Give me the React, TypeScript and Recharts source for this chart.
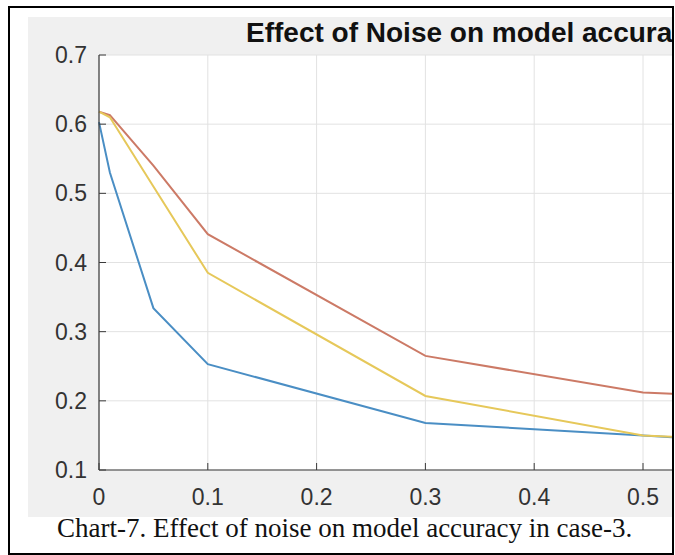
import React from "react";
import { LineChart, Line, XAxis, YAxis, CartesianGrid } from "recharts";

// noise level on x, accuracy on y
const noiseLevels = [0, 0.01, 0.05, 0.1, 0.3, 0.5, 0.7];
const blueSeries = [0.603, 0.53, 0.334, 0.253, 0.168, 0.15, 0.13];
const redSeries = [0.618, 0.613, 0.54, 0.441, 0.265, 0.212, 0.2];
const yellowSeries = [0.618, 0.61, 0.51, 0.385, 0.207, 0.15, 0.135];

const xTicks = [0, 0.1, 0.2, 0.3, 0.4, 0.5, 0.6, 0.7];
const yTicks = [0.1, 0.2, 0.3, 0.4, 0.5, 0.6, 0.7];
// the figure is cropped on the right, labels past 0.5 are never seen
const lastShownX = 0.5;

const title = "Effect of Noise on model accuracy";
const caption = "Chart-7. Effect of noise on model accuracy in case-3.";

const axisColor = "#3a3a3a";
const labelColor = "#333";
const tickFont = "'Liberation Sans', Arial, Helvetica, sans-serif";

const data = noiseLevels.map((x, i) => ({
  x,
  blue: blueSeries[i],
  red: redSeries[i],
  yellow: yellowSeries[i],
}));

const fmt = (v: number) => (v === 0 ? "0" : String(Math.round(v * 10) / 10));

const BottomTick = (props: any) => {
  const { x, y, payload } = props;
  return (
    <g>
      <line x1={x} y1={y} x2={x} y2={y - 7} stroke={axisColor} />
      {payload.value <= lastShownX + 1e-9 && (
        <text
          x={x}
          y={y + 35}
          textAnchor="middle"
          fontSize={23}
          fontFamily={tickFont}
          fill={labelColor}
        >
          {fmt(payload.value)}
        </text>
      )}
    </g>
  );
};

const TopTick = (props: any) => {
  const { x, y } = props;
  return <line x1={x} y1={y} x2={x} y2={y + 7} stroke={axisColor} />;
};

const LeftTick = (props: any) => {
  const { x, y, payload } = props;
  return (
    <g>
      <line x1={x} y1={y} x2={x + 7} y2={y} stroke={axisColor} />
      <text
        x={x - 12}
        y={y + 8}
        textAnchor="end"
        fontSize={23}
        fontFamily={tickFont}
        fill={labelColor}
      >
        {fmt(payload.value)}
      </text>
    </g>
  );
};

export default function App() {
  return (
    <div
      style={{
        position: "absolute",
        left: 8,
        top: 6,
        width: 662,
        height: 545,
        border: "2px solid #000",
        background: "#fff",
        overflow: "hidden",
      }}
    >
      <div
        style={{
          position: "absolute",
          left: 18,
          top: 9,
          width: 840,
          height: 500,
          background: "#f0f0f0",
        }}
      >
        <LineChart
          width={840}
          height={500}
          data={data}
          margin={{ top: 38, right: 7.4, left: 0, bottom: 0 }}
        >
          <CartesianGrid stroke="#e2e2e2" fill="#fff" />
          <XAxis
            dataKey="x"
            type="number"
            domain={[0, 0.7]}
            ticks={xTicks}
            interval={0}
            height={47}
            tickSize={0}
            tickMargin={0}
            tickLine={false}
            tick={BottomTick}
            axisLine={{ stroke: axisColor, strokeWidth: 1.2 }}
          />
          <XAxis
            xAxisId="top"
            orientation="top"
            dataKey="x"
            type="number"
            domain={[0, 0.7]}
            ticks={xTicks}
            interval={0}
            height={0}
            tickSize={0}
            tickMargin={0}
            tickLine={false}
            tick={TopTick}
            axisLine={{ stroke: axisColor, strokeWidth: 1.2 }}
          />
          <YAxis
            type="number"
            domain={[0.1, 0.7]}
            ticks={yTicks}
            interval={0}
            width={71}
            tickSize={0}
            tickMargin={0}
            tickLine={false}
            tick={LeftTick}
            axisLine={{ stroke: axisColor, strokeWidth: 1.2 }}
          />
          <Line
            type="linear"
            dataKey="blue"
            stroke="#4a8ec4"
            strokeWidth={2}
            dot={false}
            isAnimationActive={false}
          />
          <Line
            type="linear"
            dataKey="red"
            stroke="#cc7a66"
            strokeWidth={2}
            dot={false}
            isAnimationActive={false}
          />
          <Line
            type="linear"
            dataKey="yellow"
            stroke="#e6c85a"
            strokeWidth={2}
            dot={false}
            isAnimationActive={false}
          />
        </LineChart>
      </div>
      <svg
        width={662}
        height={545}
        style={{ position: "absolute", left: 0, top: 0, pointerEvents: "none" }}
      >
        <text
          x={236}
          y={34}
          fontSize={28}
          fontWeight="bold"
          fontFamily={tickFont}
          fill="#111"
        >
          {title}
        </text>
        <text
          x={47}
          y={529}
          fontSize={27}
          fontFamily="'Liberation Serif', 'Times New Roman', serif"
          fill="#111"
        >
          {caption}
        </text>
      </svg>
    </div>
  );
}
